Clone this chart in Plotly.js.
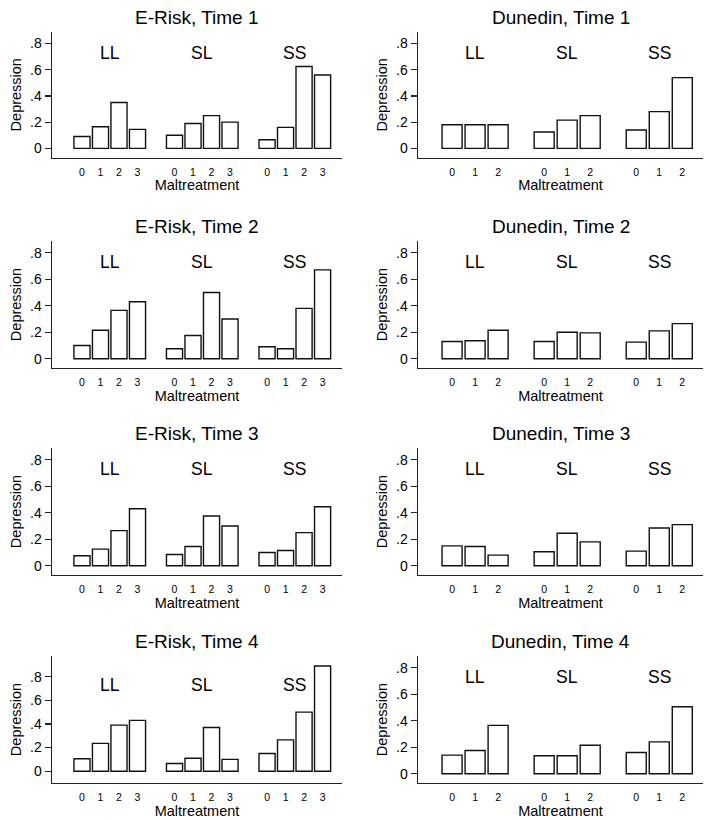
<!DOCTYPE html>
<html><head><meta charset="utf-8">
<script src="https://cdn.plot.ly/plotly-3.0.1.min.js"></script>
<style>html,body{margin:0;padding:0;background:#fff}#chart{width:715px;height:819px}</style>
</head><body><div id="chart"></div>
<script>
// ---- data ----
const genotypes = ["LL", "SL", "SS"];
const eriskLevels = ["0", "1", "2", "3"];
const dunedinLevels = ["0", "1", "2"];
const panelTitles = ["E-Risk, Time 1", "Dunedin, Time 1", "E-Risk, Time 2", "Dunedin, Time 2",
                     "E-Risk, Time 3", "Dunedin, Time 3", "E-Risk, Time 4", "Dunedin, Time 4"];
const yTickVals = [0, 0.2, 0.4, 0.6, 0.8];
const yTickText = ["0", ".2", ".4", ".6", ".8"];

// values: one row per genotype (LL, SL, SS), one column per maltreatment level
const eriskTime1 = [[0.09, 0.165, 0.35, 0.145], [0.10, 0.19, 0.25, 0.20], [0.065, 0.16, 0.625, 0.56]];
const dunedinTime1 = [[0.18, 0.18, 0.18], [0.125, 0.215, 0.25], [0.14, 0.28, 0.54]];
const eriskTime2 = [[0.10, 0.215, 0.365, 0.43], [0.075, 0.175, 0.50, 0.30], [0.09, 0.075, 0.38, 0.67]];
const dunedinTime2 = [[0.13, 0.135, 0.215], [0.13, 0.20, 0.195], [0.125, 0.21, 0.265]];
const eriskTime3 = [[0.075, 0.125, 0.265, 0.43], [0.085, 0.145, 0.375, 0.30], [0.10, 0.115, 0.25, 0.445]];
const dunedinTime3 = [[0.15, 0.145, 0.08], [0.105, 0.245, 0.18], [0.11, 0.285, 0.31]];
const eriskTime4 = [[0.105, 0.235, 0.39, 0.43], [0.065, 0.11, 0.37, 0.10], [0.15, 0.265, 0.50, 0.89]];
const dunedinTime4 = [[0.14, 0.175, 0.365], [0.135, 0.135, 0.215], [0.16, 0.24, 0.505]];

const panels = [eriskTime1, dunedinTime1, eriskTime2, dunedinTime2,
                eriskTime3, dunedinTime3, eriskTime4, dunedinTime4];

// ---- layout geometry ----
const W = 715, H = 819;
const FONT = "Liberation Sans, Arial, sans-serif";
const colX = [[52, 342], [418, 703]];
const rowY = [[32, 157.5], [241, 368], [448, 575], [656, 783]];

const traces = [];
const layout = {
  width: W, height: H, margin: {l: 0, r: 0, t: 0, b: 0},
  paper_bgcolor: "#fff", plot_bgcolor: "#fff", showlegend: false,
  font: {family: FONT, color: "#000"},
  annotations: [], bargap: 0
};

panels.forEach((vals, i) => {
  const row = Math.floor(i / 2), col = i % 2;
  const levels = col === 0 ? eriskLevels : dunedinLevels;
  const n = levels.length;
  const ax = i === 0 ? "" : String(i + 1);
  const xs = [], ys = [], tv = [], tt = [];
  vals.forEach((grp, g) => {
    grp.forEach((v, k) => {
      xs.push(g * (n + 1) + k); ys.push(v);
      tv.push(g * (n + 1) + k); tt.push(levels[k]);
    });
  });
  traces.push({
    type: "bar", x: xs, y: ys, width: 0.87, xaxis: "x" + ax, yaxis: "y" + ax,
    marker: {color: "#fff", line: {color: "#111", width: 1.4}},
    hoverinfo: "skip"
  });
  const isE4 = (i === 6);
  const xr = col === 0 ? [-1.62, 14.05] : [-1.48, 10.9];
  const yr = isE4 ? [-0.1, 0.975] : [-0.07, 0.888];
  layout["xaxis" + ax] = {
    domain: [colX[col][0] / W, colX[col][1] / W], range: xr, anchor: "y" + ax,
    showline: true, linecolor: "#222", linewidth: 1.4, showgrid: false, zeroline: false,
    tickvals: tv, ticktext: tt, ticks: "", tickfont: {size: 10.5, family: FONT, color: "#000"},
    ticklabelstandoff: 4,
    title: {text: "Maltreatment", font: {size: 14.5, family: FONT, color: "#000"}, standoff: 0},
    fixedrange: true
  };
  layout["yaxis" + ax] = {
    domain: [1 - rowY[row][1] / H, 1 - rowY[row][0] / H], range: yr, anchor: "x" + ax,
    showline: true, linecolor: "#222", linewidth: 1.4, showgrid: false, zeroline: false,
    tickvals: yTickVals, ticktext: yTickText, ticks: "outside", ticklen: 6, tickwidth: 1.2,
    tickcolor: "#222", tickfont: {size: 14, family: FONT, color: "#000"},
    title: {text: "Depression", font: {size: 14.5, family: FONT, color: "#000"}, standoff: 5},
    fixedrange: true
  };
  layout.annotations.push({
    text: panelTitles[i], xref: "x" + ax + " domain", yref: "paper",
    x: 0.5, y: 1 - (rowY[row][0] - 15) / H, xanchor: "center", yanchor: "middle",
    showarrow: false, font: {size: 19, family: FONT, color: "#000"}
  });
  genotypes.forEach((gname, g) => {
    layout.annotations.push({
      text: gname, xref: "x" + ax, yref: "y" + ax,
      x: g * (n + 1) + (n - 1) / 2, y: 0.73, xanchor: "center", yanchor: "middle",
      showarrow: false, font: {size: 17.5, family: FONT, color: "#000"}
    });
  });
});

Plotly.newPlot("chart", traces, layout, {displayModeBar: false, staticPlot: true});
</script></body></html>
